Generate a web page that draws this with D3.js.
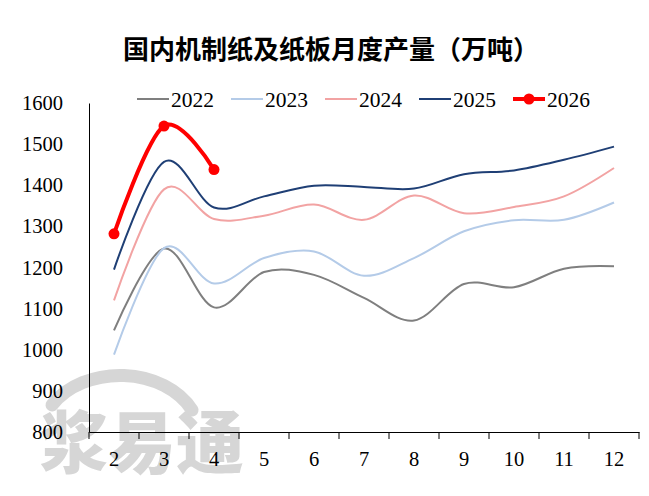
<!DOCTYPE html>
<html lang="zh">
<head>
  <meta charset="UTF-8">
  <title>国内机制纸及纸板月度产量</title>
  <script src="https://d3js.org/d3.v7.min.js"></script>
  <style>
    body { margin: 0; background: #fff; }
    svg { display: block; }
    .tick text { font-family: "Liberation Serif", "Times New Roman", serif; font-size: 20.5px; fill: #000; }
    .legend text { font-family: "Liberation Serif", "Times New Roman", serif; font-size: 21.5px; fill: #000; }
    .title { font-family: "Noto Sans CJK SC", sans-serif; font-weight: 700; font-size: 26px; }
  </style>
</head>
<body>
  <svg width="649" height="496"></svg>

  <script>
    // chart data
    const months = ["2", "3", "4", "5", "6", "7", "8", "9", "10", "11", "12"];
    const yTicks = [800, 900, 1000, 1100, 1200, 1300, 1400, 1500, 1600];
    const years  = ["2022", "2023", "2024", "2025", "2026"];

    const v2022 = [1047, 1246, 1103, 1189, 1182, 1126, 1071, 1160, 1152, 1197, 1203];
    const v2023 = [ 988, 1247, 1161, 1223, 1239, 1180, 1223, 1288, 1315, 1316, 1358];
    const v2024 = [1120, 1390, 1318, 1326, 1353, 1316, 1375, 1332, 1347, 1373, 1442];
    const v2025 = [1195, 1457, 1346, 1373, 1399, 1396, 1392, 1427, 1436, 1462, 1494];
    const v2026 = [1282, 1544, 1438];

    const colors = ["#7f7f7f", "#b4cbe8", "#f2a3a3", "#1f3f75", "#ff0000"];
    const widths = [2, 2, 2, 2, 4];

    const series = years.map((y, i) => ({
      year: y,
      color: colors[i],
      width: widths[i],
      markers: y === "2026",
      values: [v2022, v2023, v2024, v2025, v2026][i].map((v, j) => ({ m: months[j], v }))
    }));

    const svg = d3.select("svg"),
          plot = { left: 89, right: 639, top: 103, bottom: 432 };

    const x = d3.scaleBand().domain(months).range([plot.left, plot.right]);
    const y = d3.scaleLinear().domain([800, 1600]).range([plot.bottom, plot.top]);

    // watermark
    const wm = svg.append("g").attr("fill", "#d6d6d6").attr("stroke", "#d6d6d6");
    wm.append("path")
      .attr("fill", "none")
      .attr("stroke-width", 13)
      .attr("stroke-linecap", "round")
      .attr("d", "M52,405 A80,62 0 0 1 192,410");
    wm.append("text")
      .attr("x", 142).attr("y", 468)
      .attr("text-anchor", "middle")
      .attr("stroke", "none")
      .style("font-family", "Noto Sans CJK SC")
      .style("font-weight", 900)
      .style("font-size", "68px")
      .text("浆易通");

    // title
    svg.append("text")
      .attr("class", "title")
      .attr("x", 331).attr("y", 59)
      .attr("text-anchor", "middle")
      .text("国内机制纸及纸板月度产量（万吨）");

    // y axis
    const yAxis = svg.append("g")
      .attr("transform", `translate(${plot.left},0)`)
      .call(d3.axisLeft(y).tickValues(yTicks).tickSize(0).tickPadding(26).tickFormat(d3.format("d")));
    yAxis.select(".domain").attr("stroke", "#000");

    // x axis: labels centred in bands, ticks on band edges
    const xAxis = svg.append("g")
      .attr("transform", `translate(0,${plot.bottom})`)
      .call(d3.axisBottom(x).tickSize(0).tickPadding(19));
    xAxis.select(".domain").attr("stroke", "#000");
    xAxis.selectAll(".edge")
      .data(months.map(m => x(m)).concat([plot.right]))
      .enter().append("line")
        .attr("class", "edge")
        .attr("x1", d => d).attr("x2", d => d)
        .attr("y1", 0).attr("y2", 7)
        .attr("stroke", "#000");

    // lines
    const line = d3.line()
      .x(d => x(d.m) + x.bandwidth() / 2)
      .y(d => y(d.v))
      .curve(d3.curveCardinal.tension(0));

    const lines = svg.append("g");
    lines.selectAll("path")
      .data(series)
      .enter().append("path")
        .attr("fill", "none")
        .attr("stroke", d => d.color)
        .attr("stroke-width", d => d.width)
        .attr("d", d => line(d.values));

    const red = series.find(s => s.markers);
    lines.selectAll("circle")
      .data(red.values)
      .enter().append("circle")
        .attr("cx", d => x(d.m) + x.bandwidth() / 2)
        .attr("cy", d => y(d.v))
        .attr("r", 5.5)
        .attr("fill", red.color);

    // legend
    const legendX = [137, 231, 325, 419, 513];
    const legend = svg.append("g").attr("class", "legend");
    const item = legend.selectAll("g")
      .data(series)
      .enter().append("g")
        .attr("transform", (d, i) => `translate(${legendX[i]},99)`);
    item.append("line")
      .attr("x1", 0).attr("x2", 32)
      .attr("stroke", d => d.color)
      .attr("stroke-width", d => d.markers ? 4 : 2);
    item.filter(d => d.markers).append("circle")
      .attr("cx", 16).attr("r", 5.5)
      .attr("fill", d => d.color);
    item.append("text")
      .attr("x", 34).attr("y", 7.5)
      .text(d => d.year);
  </script>
</body>
</html>
